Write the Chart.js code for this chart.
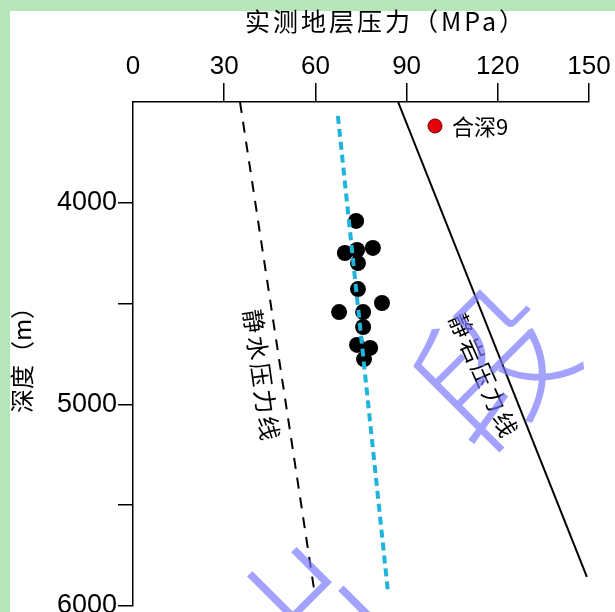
<!DOCTYPE html>
<html>
<head>
<meta charset="utf-8">
<script src="https://cdn.jsdelivr.net/npm/chart.js@4.4.1/dist/chart.umd.min.js"></script>
<style>
  html, body { margin: 0; padding: 0; background: #ffffff; }
  #wrap { width: 615px; height: 612px; }
</style>
</head>
<body>
<div id="wrap"><canvas id="c" width="615" height="612"></canvas></div>
<script>
// Measured formation pressure vs depth, well 合深9
const measuredPressure = [73.4, 69.7, 73.7, 78.9, 74.0, 74.0, 81.9, 67.8, 75.7, 75.7, 73.7, 78.0, 76.0];
const measuredDepth    = [4090, 4249, 4234, 4224, 4299, 4428, 4497, 4542, 4542, 4616, 4705, 4720, 4775];

// Reference lines (end points)
const hydroPressure = [35.2, 59.5];
const hydroDepth    = [3500, 5911];
const trendPressure = [67.4, 83.9];
const trendDepth    = [3569, 5935];
const lithoPressure = [87.2, 149.3];
const lithoDepth    = [3500, 5856];

// Axis ticks
const pressureTicks = [0, 30, 60, 90, 120, 150];
const depthTicks = [3500, 4000, 4500, 5000, 5500, 6000];
const depthLabelled = [4000, 5000, 6000];

const xTitle = '实测地层压力（MPa）';
const yTitle = '深度（m）';
const legendText = '合深9';
const hydroLabel = '静水压力线';
const lithoLabel = '静岩压力线';

const toPoints = (xs, ys) => xs.map((x, i) => ({ x: x, y: ys[i] }));

const LATIN = '"Liberation Sans", "Noto Sans CJK SC", sans-serif';
const CJK = '"Noto Sans CJK SC", "Liberation Sans", sans-serif';

const decor = {
  id: 'decor',
  beforeDraw(chart) {
    const ctx = chart.ctx;
    ctx.save();
    ctx.fillStyle = '#ffffff';
    ctx.fillRect(0, 0, chart.width, chart.height);
    ctx.fillStyle = 'rgb(181,229,184)';
    ctx.fillRect(0, 0, chart.width, 11);
    ctx.fillRect(0, 0, 10, chart.height);
    ctx.restore();
  },
  afterDraw(chart) {
    const ctx = chart.ctx;
    const xs = chart.scales.x, ys = chart.scales.y;
    const area = chart.chartArea;
    ctx.save();

    // top axis title, letter-spaced
    ctx.font = '25px ' + CJK;
    ctx.fillStyle = '#000';
    ctx.textAlign = 'center';
    ctx.textBaseline = 'middle';
    ctx.letterSpacing = '3px';
    ctx.fillText(xTitle, area.left + 253, 21);

    // line labels, written along each line
    const along = (px, py, d, dx, text, angle) => {
      const t = (d - py[0]) / (py[1] - py[0]);
      const p = px[0] + t * (px[1] - px[0]);
      const X = xs.getPixelForValue(p) + dx;
      const Y = ys.getPixelForValue(d);
      ctx.save();
      ctx.translate(X, Y);
      ctx.rotate(angle * Math.PI / 180);
      ctx.font = '24px ' + CJK;
      ctx.letterSpacing = '3px';
      ctx.fillStyle = '#000';
      ctx.textAlign = 'center';
      ctx.textBaseline = 'middle';
      ctx.fillText(text, 0, 0);
      ctx.restore();
    };
    along(hydroPressure, hydroDepth, 4860, -20, hydroLabel, 82);
    along(lithoPressure, lithoDepth, 4860, -23, lithoLabel, 66);

    // legend
    ctx.letterSpacing = '0px';
    const lx = area.left + 302, ly = area.top + 24;
    ctx.beginPath();
    ctx.arc(lx, ly, 7, 0, Math.PI * 2);
    ctx.fillStyle = '#e8000b';
    ctx.fill();
    ctx.lineWidth = 1;
    ctx.strokeStyle = '#6b0000';
    ctx.stroke();
    ctx.font = '22px ' + CJK;
    ctx.fillStyle = '#000';
    ctx.textAlign = 'left';
    ctx.textBaseline = 'middle';
    ctx.fillText(legendText, lx + 17, ly + 1);

    // faint overlay characters
    ctx.fillStyle = 'rgba(120,120,255,0.68)';
    ctx.textAlign = 'center';
    ctx.textBaseline = 'middle';
    const stamp = (ch, x, y, size, ang) => {
      ctx.save();
      ctx.translate(x, y);
      ctx.rotate(ang * Math.PI / 180);
      ctx.font = '300 ' + size + 'px ' + CJK;
      ctx.fillText(ch, 0, 0);
      ctx.restore();
    };
    stamp('段', 492, 366, 150, -45);
    stamp('出', 298, 622, 150, -45);
    ctx.restore();
  }
};

new Chart(document.getElementById('c'), {
  type: 'scatter',
  data: {
    datasets: [
      {
        label: 'trend',
        data: toPoints(trendPressure, trendDepth),
        showLine: true,
        borderColor: '#1eb4dc',
        borderWidth: 4,
        borderDash: [8, 5],
        pointRadius: 0,
        fill: false
      },
      {
        label: legendText,
        data: toPoints(measuredPressure, measuredDepth),
        showLine: false,
        pointRadius: 8,
        pointBackgroundColor: '#000',
        pointBorderColor: '#000',
        pointBorderWidth: 0
      },
      {
        label: hydroLabel,
        data: toPoints(hydroPressure, hydroDepth),
        showLine: true,
        borderColor: '#000',
        borderWidth: 2,
        borderDash: [11, 9],
        pointRadius: 0
      },
      {
        label: lithoLabel,
        data: toPoints(lithoPressure, lithoDepth),
        showLine: true,
        borderColor: '#000',
        borderWidth: 2,
        pointRadius: 0
      }
    ]
  },
  options: {
    responsive: false,
    animation: false,
    devicePixelRatio: 1,
    layout: { autoPadding: false, padding: { left: 10, top: 8, right: 26, bottom: 6 } },
    plugins: { legend: { display: false }, tooltip: { enabled: false } },
    scales: {
      x: {
        type: 'linear',
        position: 'top',
        min: pressureTicks[0],
        max: pressureTicks[pressureTicks.length - 1],
        afterBuildTicks: s => { s.ticks = pressureTicks.map(v => ({ value: v })); },
        ticks: {
          font: { family: LATIN, size: 26 },
          color: '#000',
          padding: 1,
          maxRotation: 0,
          autoSkip: false
        },
        grid: {
          drawOnChartArea: false,
          drawTicks: true,
          tickLength: 19,
          lineWidth: 1.5,
          color: c => (c.tick && c.tick.value === 0) ? 'rgba(0,0,0,0)' : '#000'
        },
        border: { display: true, color: '#000', width: 1.5 },
        afterFit: s => { s.height = 94; s.paddingLeft = 0; s.paddingRight = 0; }
      },
      y: {
        type: 'linear',
        reverse: true,
        min: depthTicks[0],
        max: depthTicks[depthTicks.length - 1],
        afterBuildTicks: s => { s.ticks = depthTicks.map(v => ({ value: v })); },
        ticks: {
          font: { family: LATIN, size: 27, lineHeight: 0.4 },
          color: '#000',
          padding: 1,
          autoSkip: false,
          callback: v => depthLabelled.includes(v) ? String(v) : ''
        },
        grid: {
          drawOnChartArea: false,
          drawTicks: true,
          tickLength: 15,
          lineWidth: 1.5,
          color: c => (c.tick && c.tick.value === depthTicks[0]) ? 'rgba(0,0,0,0)' : '#000'
        },
        border: { display: true, color: '#000', width: 1.5 },
        title: {
          display: true,
          text: yTitle,
          color: '#000',
          font: { family: CJK, size: 24, lineHeight: 1 },
          padding: 0
        },
        afterFit: s => { s.width = 123; s.paddingTop = 0; s.paddingBottom = 0; }
      }
    }
  },
  plugins: [decor]
});
</script>
</body>
</html>
